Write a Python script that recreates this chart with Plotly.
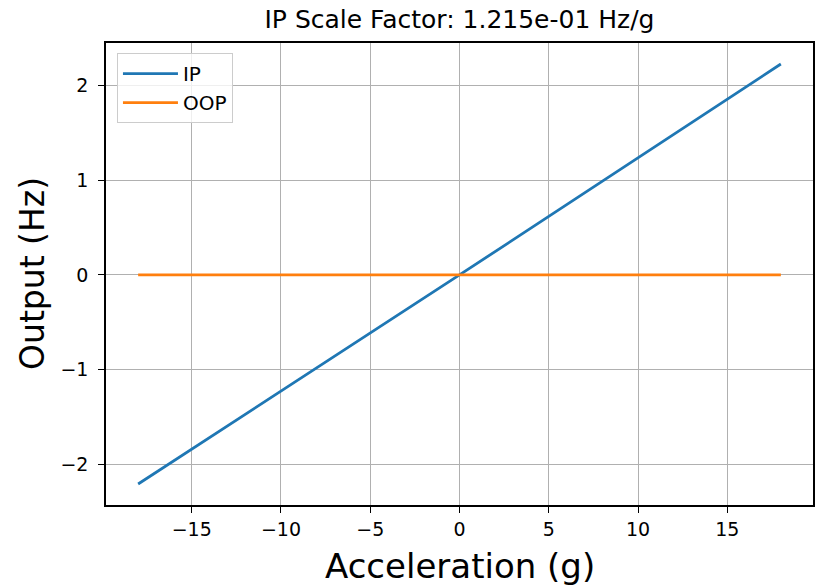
import plotly.graph_objects as go

# Sweep of applied acceleration (g) and the measured outputs (Hz)
accel_g = [-18.0, 0.0, 18.0]
ip_output_hz = [-2.21, 0.0, 2.23]
oop_output_hz = [0.0, 0.0, 0.0]

scale_factor = 1.215e-01
x_ticks = [-15, -10, -5, 0, 5, 10, 15]
y_ticks = [-2, -1, 0, 1, 2]

FONT = "DejaVu Sans"

fig = go.Figure()
fig.add_trace(go.Scatter(x=accel_g, y=ip_output_hz, mode="lines", name="IP",
                         line=dict(color="#1f77b4", width=2.8)))
fig.add_trace(go.Scatter(x=accel_g, y=oop_output_hz, mode="lines", name="OOP",
                         line=dict(color="#ff7f0e", width=2.8)))

axis_common = dict(
    showline=True, linecolor="black", linewidth=1.5, mirror=True,
    showgrid=True, gridcolor="#b0b0b0", gridwidth=1,
    zeroline=False,
    ticks="outside", ticklen=6, tickwidth=1.2, tickcolor="black",
    tickfont=dict(family=FONT, size=19, color="black"),
)

fig.update_xaxes(range=[-19.8, 19.8], tickvals=x_ticks, **axis_common)
fig.update_yaxes(range=[-2.432, 2.452], tickvals=y_ticks, ticklabelstandoff=6, **axis_common)

fig.update_layout(
    width=817, height=588,
    margin=dict(l=106, r=2, t=43, b=83),
    paper_bgcolor="white", plot_bgcolor="white",
    font=dict(family=FONT, color="black"),
    title=dict(text=f"IP Scale Factor: {scale_factor:.3e} Hz/g",
               x=0.5, xref="paper", xanchor="center",
               y=1 - 19 / 588, yref="container", yanchor="middle",
               font=dict(family=FONT, size=25, color="black")),
    legend=dict(x=0.0155, y=0.978, xanchor="left", yanchor="top",
                bgcolor="rgba(255,255,255,0.8)", bordercolor="#cccccc", borderwidth=1,
                itemwidth=55,
                font=dict(family=FONT, size=20, color="black")),
    showlegend=True,
    annotations=[
        dict(text="Acceleration (g)", x=0.5, y=0, xref="paper", yref="paper",
             xanchor="center", yanchor="middle", yshift=-61, showarrow=False,
             font=dict(family=FONT, size=34, color="black")),
        dict(text="Output (Hz)", x=0, y=0.5, xref="paper", yref="paper",
             xanchor="center", yanchor="middle", xshift=-74, textangle=-90,
             showarrow=False, font=dict(family=FONT, size=33, color="black")),
    ],
)

fig.write_html("out.html")
